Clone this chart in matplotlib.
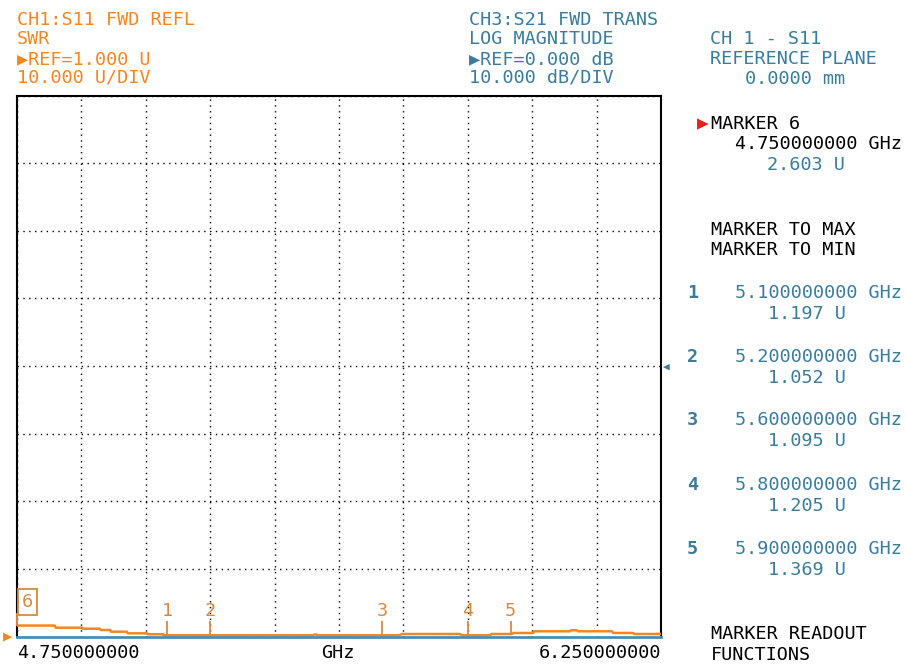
import matplotlib
matplotlib.use("Agg")
import matplotlib.pyplot as plt

# CH1 S11 SWR trace (step-like segments)
freq_ghz = [4.750, 4.838, 4.840, 4.901, 4.903, 4.943, 4.945, 4.967, 4.969, 5.006,
            5.008, 5.053, 5.055, 5.090, 5.092, 5.440, 5.443, 5.447, 5.450, 5.640,
            5.647, 5.782, 5.785, 5.852, 5.855, 5.903, 5.906, 5.952, 5.955, 6.038,
            6.041, 6.054, 6.057, 6.136, 6.139, 6.185, 6.188, 6.250]
swr_u = [2.62, 2.62, 2.30, 2.30, 2.15, 2.15, 1.96, 1.96, 1.71, 1.71,
         1.47, 1.47, 1.33, 1.33, 1.18, 1.18, 1.30, 1.30, 1.18, 1.18,
         1.37, 1.37, 1.18, 1.18, 1.37, 1.37, 1.52, 1.52, 1.77, 1.77,
         1.92, 1.92, 1.77, 1.77, 1.52, 1.52, 1.37, 1.37]

# CH3 S21 log magnitude (sits on the bottom graticule line)
s21_freq = [4.750, 6.250]
s21_db = [-40.0, -40.0]

# markers
marker_ids = ["1", "2", "3", "4", "5"]
marker_freq = [5.1, 5.2, 5.6, 5.8, 5.9]
marker_val = [1.197, 1.052, 1.095, 1.205, 1.369]
marker_freq_txt = ["5.100000000 GHz", "5.200000000 GHz", "5.600000000 GHz",
                   "5.800000000 GHz", "5.900000000 GHz"]
marker_val_txt = ["1.197 U", "1.052 U", "1.095 U", "1.205 U", "1.369 U"]
active_freq = 4.75
active_val = 2.603

ORANGE = "#F5861F"
MK_ORANGE = "#D9893F"
BLUE = "#3A7C9C"
TRACE_BLUE = "#4A8DB5"
FONT = ["DejaVu Sans Mono", "DejaVu Sans"]
FS = 13.3

W, H = 907, 666
fig = plt.figure(figsize=(W / 100, H / 100), dpi=100)


def px(x, y):
    return x / W, 1 - y / H


def put(x, y, s, color="black", **kw):
    kw.setdefault("fontsize", FS)
    kw.setdefault("ha", "left")
    kw.setdefault("va", "center")
    fig.text(*px(x, y), s, color=color, family=FONT, **kw)


ax = fig.add_axes([17 / W, (H - 636.5) / H, 644 / W, 541 / H])
ax.set_xlim(4.75, 6.25)
ax.set_ylim(1.0, 81.0)
ax.set_xticks([4.75 + i * 0.15 for i in range(11)])
ax.set_yticks([1 + i * 10 for i in range(9)])
ax.tick_params(length=0, labelbottom=False, labelleft=False)
ax.grid(True, color="black", linestyle=(0, (1, 3.2)), linewidth=1.0)
for sp in ax.spines.values():
    sp.set_linewidth(1.5)
ax.spines["bottom"].set_visible(False)

# S21 on its own scale
ax3 = ax.twinx()
ax3.set_ylim(-40, 40)
ax3.set_yticks([])
ax3.plot(s21_freq, s21_db, color=TRACE_BLUE, lw=2, clip_on=False)
ax3.axis("off")

ax.plot(freq_ghz, swr_u, color=ORANGE, lw=1.8, zorder=5)

# marker ticks + labels
for mid, f, v in zip(marker_ids, marker_freq, marker_val):
    base = 1.25
    ax.vlines(f, base, base + 2.0, color=MK_ORANGE, lw=1.3, zorder=6)
    ax.text(f, base + 2.2, mid, color=MK_ORANGE, family=FONT, fontsize=FS,
            ha="center", va="bottom", zorder=6)
ax.vlines(active_freq, active_val, active_val + 1.9, color=MK_ORANGE, lw=1.4,
          zorder=6, clip_on=False)
ax.annotate("6", (active_freq, active_val + 2.15), xytext=(3.5, 0),
            textcoords="offset points", color=MK_ORANGE, family=FONT,
            fontsize=FS, ha="left", va="bottom", zorder=6,
            bbox=dict(boxstyle="square,pad=0.22", fc="white", ec=MK_ORANGE, lw=1.3))

# header, channel 1
put(17, 20, "CH1:S11 FWD REFL", ORANGE)
put(17, 39, "SWR", ORANGE)
put(17, 59, "▶REF=1.000 U", ORANGE)
put(17, 78, "10.000 U/DIV", ORANGE)

# header, channel 3
put(469, 20, "CH3:S21 FWD TRANS", BLUE)
put(469, 39, "LOG MAGNITUDE", BLUE)
put(469, 59, "▶REF=0.000 dB", BLUE)
put(469, 78, "10.000 dB/DIV", BLUE)

put(710, 39, "CH 1 - S11", BLUE)
put(710, 59, "REFERENCE PLANE", BLUE)
put(745, 79, "0.0000 mm", BLUE)

# right side readout
put(697, 124, "▶", "#E8201A", fontsize=14)
put(711, 124, "MARKER 6")
put(735, 144, "4.750000000 GHz")
put(767, 165, "2.603 U", BLUE)
put(711, 230, "MARKER TO MAX")
put(711, 250, "MARKER TO MIN")

row_y = [293, 357, 420, 485, 549]
for mid, ft, vt, y in zip(marker_ids, marker_freq_txt, marker_val_txt, row_y):
    put(687, y, mid, BLUE, fontweight="bold")
    put(735, y, ft, BLUE)
    put(768, y + 21, vt, BLUE)

put(711, 634, "MARKER READOUT")
put(711, 655, "FUNCTIONS")

# reference pointers
put(663, 367, "◀", BLUE, fontsize=8)
put(3, 636, "▶", ORANGE, fontsize=11)

# frequency axis annotation
put(17, 653, "4.750000000")
put(338, 653, "GHz", ha="center")
put(661, 653, "6.250000000", ha="right")

fig.savefig("out.png", dpi=100)
